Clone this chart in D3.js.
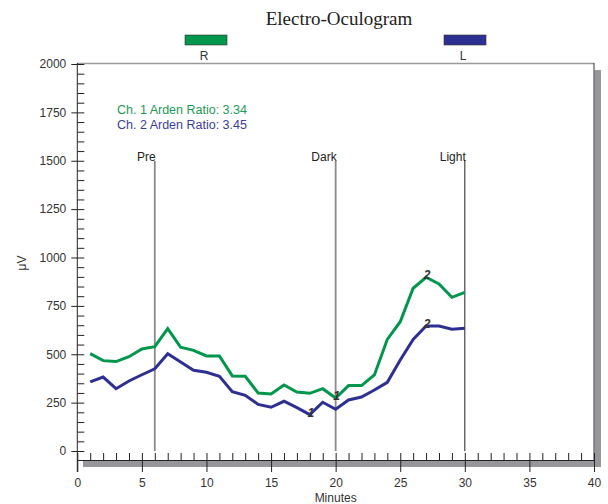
<!DOCTYPE html>
<html>
<head>
<meta charset="utf-8">
<script src="https://cdn.jsdelivr.net/npm/d3@7"></script>
<style>
  body { margin: 0; background: #fff; }
  svg text { font-family: "Liberation Sans", Arial, sans-serif; }
</style>
</head>
<body>
<div id="chart"></div>
<script>
const FRAME_WIDTH = 608;
const FRAME_HEIGHT = 504;

// data (minutes, microvolts)
const MINUTES = [1, 2, 3, 4, 5, 6, 7, 8, 9, 10, 11, 12, 13, 14, 15, 16, 17, 18, 19, 20,
                 21, 22, 23, 24, 25, 26, 27, 28, 29, 30];
const CH1 = [503, 467, 462, 487, 527, 539, 632, 536, 520, 491, 491, 388, 386, 300, 295, 341, 305, 298, 322, 274,
             338, 338, 393, 577, 668, 841, 898, 863, 794, 820];
const CH2 = [357, 382, 322, 362, 394, 425, 503, 460, 417, 407, 386, 307, 288, 241, 226, 257, 224, 188, 252, 216,
             264, 279, 315, 355, 470, 577, 646, 646, 629, 634];

const SERIES = [
  {name: "R", values: CH1, color: "#00964b", text: "Ch. 1 Arden Ratio: 3.34", textColor: "#1b9b55"},
  {name: "L", values: CH2, color: "#2d3091", text: "Ch. 2 Arden Ratio: 3.45", textColor: "#3b3d9b"}
];

// event markers: vertical lines and numbered points
const EVENTS = [{label: "Pre", t: 6, color: "#8a8a8a", w: 1.8},
                {label: "Dark", t: 20, color: "#8a8a8a", w: 1.8},
                {label: "Light", t: 30, color: "#222", w: 1}];
const MARKS = [{series: 1, t: 18, label: "1"}, {series: 0, t: 20, label: "1"},
               {series: 0, t: 27, label: "2"}, {series: 1, t: 27, label: "2"}];

const Y_TICKS = [0, 250, 500, 750, 1000, 1250, 1500, 1750, 2000];
const X_TICKS = [0, 5, 10, 15, 20, 25, 30, 35, 40];

const SVG = d3.select("#chart")
  .append("svg")
    .attr("width", FRAME_WIDTH)
    .attr("height", FRAME_HEIGHT);

const X_SCALE = d3.scaleLinear().domain([0, 40]).range([77.3, 594]);
const Y_SCALE = d3.scaleLinear().domain([0, 2000]).range([451, 64]);
const AXIS_Y = 460;

// title
SVG.append("text")
  .attr("x", 339).attr("y", 25)
  .attr("text-anchor", "middle")
  .style("font-family", "'Liberation Serif', 'Times New Roman', serif")
  .style("font-size", "19px")
  .attr("fill", "#222")
  .text("Electro-Oculogram");

// legend boxes
const LEGEND_X = [206, 465];
SERIES.forEach((s, i) => {
  SVG.append("rect")
    .attr("x", LEGEND_X[i] - 21).attr("y", 35)
    .attr("width", 42).attr("height", 10)
    .attr("fill", s.color)
    .attr("stroke", "#333").attr("stroke-width", 0.6);
  SVG.append("text")
    .attr("x", LEGEND_X[i] - 2).attr("y", 60)
    .attr("text-anchor", "middle")
    .style("font-size", "12px")
    .attr("fill", "#333")
    .text(s.name);
});

// 3d style shadow bars
SVG.append("rect")
  .attr("x", 83).attr("y", AXIS_Y + 0.5)
  .attr("width", 601 - 83).attr("height", 6.5)
  .attr("fill", "#97979b");
SVG.append("rect")
  .attr("x", 594.5).attr("y", 70)
  .attr("width", 6.5).attr("height", AXIS_Y + 7 - 70)
  .attr("fill", "#97979b");

// frame lines
SVG.append("line")
  .attr("x1", X_SCALE(0)).attr("x2", X_SCALE(40))
  .attr("y1", 63.5).attr("y2", 63.5)
  .attr("stroke", "#999").attr("stroke-width", 1.5);
SVG.append("line")
  .attr("x1", X_SCALE(40)).attr("x2", X_SCALE(40))
  .attr("y1", 63).attr("y2", AXIS_Y)
  .attr("stroke", "#333").attr("stroke-width", 1);

// y axis: major ticks left with labels, minor ticks right
SVG.append("g")
  .attr("transform", "translate(" + X_SCALE(0) + ",0)")
  .call(d3.axisLeft(Y_SCALE).tickValues(Y_TICKS).tickFormat(d3.format("d"))
    .tickSize(6).tickSizeOuter(0).tickPadding(5))
  .call(g => g.select(".domain").remove())
  .call(g => g.selectAll("line").attr("stroke", "#222"))
  .call(g => g.selectAll("text").attr("fill", "#333").style("font-size", "12px")
    .style("font-family", "'Liberation Sans', Arial, sans-serif"));

SVG.append("g")
  .attr("transform", "translate(" + X_SCALE(0) + ",0)")
  .call(d3.axisRight(Y_SCALE).ticks(40).tickSize(7).tickSizeOuter(0).tickFormat(""))
  .call(g => g.select(".domain").remove())
  .call(g => g.selectAll("line").attr("stroke", "#222"));

SVG.append("line")
  .attr("x1", X_SCALE(0)).attr("x2", X_SCALE(0))
  .attr("y1", 63).attr("y2", AXIS_Y + 12)
  .attr("stroke", "#222").attr("stroke-width", 1);

// x axis: minor ticks up, major ticks down with labels
SVG.append("g")
  .attr("transform", "translate(0," + AXIS_Y + ")")
  .call(d3.axisTop(X_SCALE).ticks(40).tickSize(7).tickSizeOuter(0).tickFormat(""))
  .call(g => g.select(".domain").remove())
  .call(g => g.selectAll("line").attr("stroke", "#222"));

SVG.append("g")
  .attr("transform", "translate(0," + AXIS_Y + ")")
  .call(d3.axisBottom(X_SCALE).tickValues(X_TICKS).tickSize(12).tickSizeOuter(0).tickPadding(6))
  .call(g => g.select(".domain").attr("stroke", "#222"))
  .call(g => g.selectAll("line").attr("stroke", "#222"))
  .call(g => g.selectAll("text").attr("fill", "#333").style("font-size", "12px")
    .style("font-family", "'Liberation Sans', Arial, sans-serif"));

// axis titles
SVG.append("text")
  .attr("x", X_SCALE(20)).attr("y", 502)
  .attr("text-anchor", "middle")
  .style("font-size", "12px")
  .attr("fill", "#333")
  .text("Minutes");

SVG.append("text")
  .attr("transform", "translate(26,263) rotate(-90)")
  .attr("text-anchor", "middle")
  .style("font-size", "12px")
  .attr("fill", "#333")
  .text("μV");

// event lines with labels
EVENTS.forEach((e) => {
  SVG.append("line")
    .attr("x1", X_SCALE(e.t)).attr("x2", X_SCALE(e.t))
    .attr("y1", 161).attr("y2", Y_SCALE(0))
    .attr("stroke", e.color).attr("stroke-width", e.w);
  SVG.append("text")
    .attr("x", X_SCALE(e.t) + 1).attr("y", 161)
    .attr("text-anchor", "end")
    .style("font-size", "12px")
    .attr("fill", "#222")
    .text(e.label);
});

// ratio texts
SERIES.forEach((s, i) => {
  SVG.append("text")
    .attr("x", 117).attr("y", 114 + i * 15)
    .style("font-size", "12.5px")
    .attr("fill", s.textColor)
    .text(s.text);
});

// the two traces
const LINE = d3.line()
  .x((d, i) => X_SCALE(MINUTES[i]))
  .y((d) => Y_SCALE(d));

SERIES.forEach((s) => {
  SVG.append("path")
    .datum(s.values)
    .attr("d", LINE)
    .attr("fill", "none")
    .attr("stroke", s.color)
    .attr("stroke-width", 3)
    .attr("stroke-linejoin", "miter");
});

// numbered markers
MARKS.forEach((m) => {
  const v = SERIES[m.series].values[MINUTES.indexOf(m.t)];
  SVG.append("text")
    .attr("x", X_SCALE(m.t) + 1).attr("y", Y_SCALE(v) + 2)
    .attr("text-anchor", "middle")
    .style("font-size", "12px")
    .style("font-style", "italic")
    .style("font-weight", "bold")
    .attr("fill", "#333")
    .text(m.label);
});
</script>
</body>
</html>
